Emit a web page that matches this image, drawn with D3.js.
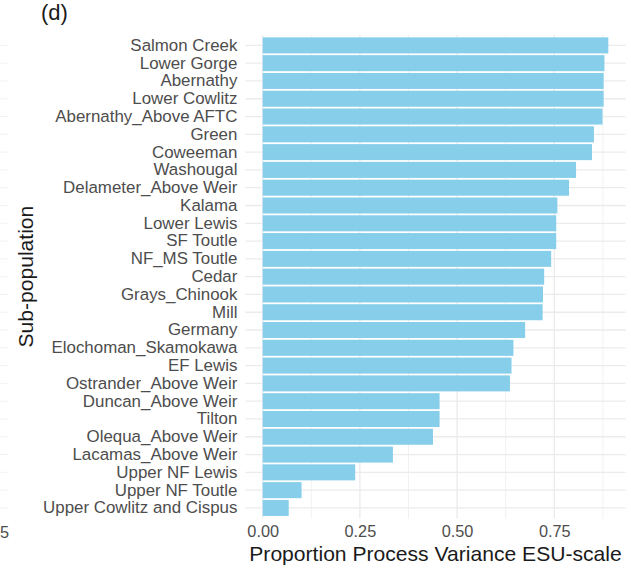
<!DOCTYPE html>
<html>
<head>
<meta charset="utf-8">
<script src="https://cdn.jsdelivr.net/npm/d3@7"></script>
<style>
  html, body { margin: 0; padding: 0; background: #fff; }
  svg { display: block; }
  text { font-family: "Liberation Sans", Arial, sans-serif; }
</style>
</head>
<body>
<script>
// Sub-populations, listed top to bottom
const categories = [
  "Salmon Creek", "Lower Gorge", "Abernathy", "Lower Cowlitz", "Abernathy_Above AFTC",
  "Green", "Coweeman", "Washougal", "Delameter_Above Weir", "Kalama",
  "Lower Lewis", "SF Toutle", "NF_MS Toutle", "Cedar", "Grays_Chinook",
  "Mill", "Germany", "Elochoman_Skamokawa", "EF Lewis", "Ostrander_Above Weir",
  "Duncan_Above Weir", "Tilton", "Olequa_Above Weir", "Lacamas_Above Weir",
  "Upper NF Lewis", "Upper NF Toutle", "Upper Cowlitz and Cispus"
];

// Proportion of process variance at ESU scale
const values = [
  0.889, 0.879, 0.877, 0.877, 0.874,
  0.852, 0.847, 0.806, 0.788, 0.758,
  0.755, 0.755, 0.742, 0.724, 0.721,
  0.720, 0.675, 0.645, 0.640, 0.636,
  0.455, 0.455, 0.438, 0.335,
  0.238, 0.100, 0.067
];

const xTicks = [0, 0.25, 0.5, 0.75];
const xTickLabels = ["0.00", "0.25", "0.50", "0.75"];
const xMinorTicks = [0.125, 0.375, 0.625, 0.875];

const W = 631, H = 571;
const panel = { left: 245.4, right: 625.6, top: 34.7, bottom: 518.6 };

const svg = d3.select("body").append("svg")
  .attr("width", W).attr("height", H);

// x: continuous with 5% expansion on each side
const xMax = d3.max(values);
const pad = xMax * 0.05;
const x = d3.scaleLinear()
  .domain([-pad, xMax + pad])
  .range([panel.left, panel.right]);

// y: discrete bands, bars at 90% width
const y = d3.scaleBand()
  .domain(categories)
  .range([panel.top, panel.bottom])
  .paddingInner(0.1)
  .paddingOuter(0.15);

const gridColor = "#ebebeb";

// Stubs of the neighbouring panel at the left edge
svg.append("g").selectAll("line")
  .data(categories).join("line")
  .attr("x1", 0).attr("x2", 8)
  .attr("y1", d => y(d) + y.bandwidth() / 2)
  .attr("y2", d => y(d) + y.bandwidth() / 2)
  .attr("stroke", "#f3f3f3").attr("stroke-width", 1);
svg.append("text")
  .attr("x", 9).attr("y", 538.3)
  .attr("text-anchor", "end")
  .attr("font-size", 16.3).attr("fill", "#4d4d4d")
  .text("5");

// Minor vertical gridlines
svg.append("g").selectAll("line")
  .data(xMinorTicks).join("line")
  .attr("x1", d => x(d)).attr("x2", d => x(d))
  .attr("y1", panel.top).attr("y2", panel.bottom)
  .attr("stroke", gridColor).attr("stroke-width", 0.7);

// Major vertical gridlines
svg.append("g").selectAll("line")
  .data(xTicks).join("line")
  .attr("x1", d => x(d)).attr("x2", d => x(d))
  .attr("y1", panel.top).attr("y2", panel.bottom)
  .attr("stroke", gridColor).attr("stroke-width", 1.3);

// Horizontal gridlines at each category
svg.append("g").selectAll("line")
  .data(categories).join("line")
  .attr("x1", panel.left).attr("x2", panel.right)
  .attr("y1", d => y(d) + y.bandwidth() / 2)
  .attr("y2", d => y(d) + y.bandwidth() / 2)
  .attr("stroke", gridColor).attr("stroke-width", 1.3);

// Bars
svg.append("g").selectAll("rect")
  .data(categories).join("rect")
  .attr("x", x(0))
  .attr("y", d => y(d))
  .attr("width", (d, i) => x(values[i]) - x(0))
  .attr("height", y.bandwidth())
  .attr("fill", "#87CEEB");

// y axis labels
const yAxis = d3.axisLeft(y).tickSize(0).tickPadding(8);
const gy = svg.append("g")
  .attr("transform", `translate(${panel.left},0)`)
  .call(yAxis);
gy.select(".domain").remove();
gy.selectAll("text")
  .attr("font-family", "Liberation Sans, Arial, sans-serif")
  .attr("font-size", 16.9)
  .attr("fill", "#4d4d4d");

// x axis labels
const xAxis = d3.axisBottom(x)
  .tickValues(xTicks)
  .tickFormat((d, i) => xTickLabels[i])
  .tickSize(0).tickPadding(7);
const gx = svg.append("g")
  .attr("transform", `translate(0,${panel.bottom})`)
  .call(xAxis);
gx.select(".domain").remove();
gx.selectAll("text")
  .attr("font-family", "Liberation Sans, Arial, sans-serif")
  .attr("font-size", 16.3)
  .attr("fill", "#4d4d4d");

// Axis titles
svg.append("text")
  .attr("x", (panel.left + panel.right) / 2)
  .attr("y", 560.5)
  .attr("text-anchor", "middle")
  .attr("font-size", 21.1)
  .attr("fill", "#1a1a1a")
  .text("Proportion Process Variance ESU-scale");

svg.append("text")
  .attr("transform", `translate(33,${(panel.top + panel.bottom) / 2}) rotate(-90)`)
  .attr("text-anchor", "middle")
  .attr("font-size", 21.1)
  .attr("fill", "#1a1a1a")
  .text("Sub-population");

// Panel tag
svg.append("text")
  .attr("x", 41)
  .attr("y", 20)
  .attr("font-size", 22)
  .attr("fill", "#1a1a1a")
  .text("(d)");
</script>
</body>
</html>
